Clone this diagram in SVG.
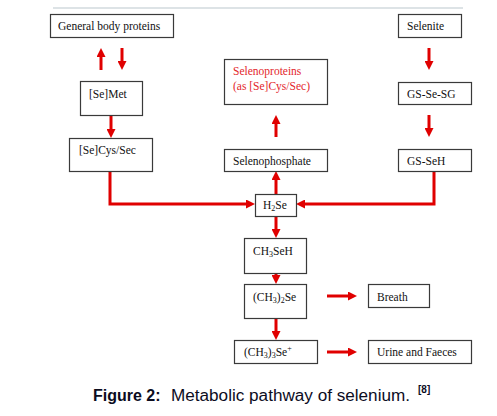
<svg xmlns="http://www.w3.org/2000/svg" width="497" height="416" viewBox="0 0 497 416">
<style>
.box{fill:#fff;stroke:#3a3a3a;stroke-width:1.2}
.t{font-family:"Liberation Serif","Times New Roman",serif;font-size:11.5px;fill:#111}
.red{fill:#e3262b}
.sub{font-size:8px}
.c{stroke:#e00000;stroke-width:3;fill:none}
.cap{font-family:"Liberation Sans",Arial,sans-serif;font-size:16px;fill:#0c0c1e}
.ref{font-family:"Liberation Sans",Arial,sans-serif;font-size:10px;font-weight:bold;fill:#0c0c1e}
</style>
<defs>
<marker id="ah" markerUnits="userSpaceOnUse" markerWidth="9" markerHeight="9" refX="0" refY="4.5" orient="auto" viewBox="0 0 9 9">
<path d="M0,0 L9,4.5 L0,9 z" fill="#e00000"/>
</marker>
</defs>
<rect width="497" height="416" fill="#fff"/>
<line x1="53" y1="8" x2="463" y2="8" stroke="#dde3e6" stroke-width="2"/>
<g id="connectors">
<line class="c" x1="101" y1="70" x2="101" y2="57" marker-end="url(#ah)"/>
<line class="c" x1="122" y1="48" x2="122" y2="61" marker-end="url(#ah)"/>
<line class="c" x1="111" y1="115" x2="111" y2="129" marker-end="url(#ah)"/>
<line class="c" x1="429" y1="48" x2="429" y2="61" marker-end="url(#ah)"/>
<line class="c" x1="429" y1="115" x2="429" y2="128" marker-end="url(#ah)"/>
<line class="c" x1="276" y1="137" x2="276" y2="124" marker-end="url(#ah)"/>
<line class="c" x1="276" y1="194" x2="276" y2="180" marker-end="url(#ah)"/>
<path class="c" d="M110,171 V204 H246" marker-end="url(#ah)"/>
<path class="c" d="M434,171 V204 H305" marker-end="url(#ah)"/>
<line class="c" x1="276" y1="216" x2="276" y2="229" marker-end="url(#ah)"/>
<line class="c" x1="276" y1="273" x2="276" y2="275" marker-end="url(#ah)"/>
<line class="c" x1="276" y1="318" x2="276" y2="331" marker-end="url(#ah)"/>
<line class="c" x1="327" y1="296" x2="348" y2="296" marker-end="url(#ah)"/>
<line class="c" x1="327" y1="352" x2="348" y2="352" marker-end="url(#ah)"/>
</g>
<g id="general-body-proteins"><rect class="box" x="50.5" y="14.5" width="123" height="23"/><text class="t" x="58" y="30">General body proteins</text></g>
<g id="selenite"><rect class="box" x="398.5" y="14.5" width="63" height="23"/><text class="t" x="407" y="30">Selenite</text></g>
<g id="selenoproteins"><rect class="box" x="224.5" y="59.5" width="103" height="45"/><text class="t red" x="233" y="75">Selenoproteins</text><text class="t red" x="233" y="90">(as [Se]Cys/Sec)</text></g>
<g id="semet"><rect class="box" x="80.5" y="81.5" width="62" height="34"/><text class="t" x="89" y="98">[Se]Met</text></g>
<g id="gs-se-sg"><rect class="box" x="398.5" y="82.5" width="73" height="22"/><text class="t" x="407" y="98">GS-Se-SG</text></g>
<g id="secys"><rect class="box" x="69.5" y="138.5" width="83" height="33"/><text class="t" x="79" y="154">[Se]Cys/Sec</text></g>
<g id="selenophosphate"><rect class="box" x="224.5" y="149.5" width="103" height="22"/><text class="t" x="233" y="165">Selenophosphate</text></g>
<g id="gs-seh"><rect class="box" x="398.5" y="149.5" width="73" height="22"/><text class="t" x="407" y="165">GS-SeH</text></g>
<g id="h2se"><rect class="box" x="255.5" y="194.5" width="41" height="22"/><text class="t" x="263" y="209">H<tspan class="sub" dy="2">2</tspan><tspan dy="-2">Se</tspan></text></g>
<g id="ch3seh"><rect class="box" x="244.5" y="238.5" width="62" height="35"/><text class="t" x="253" y="255">CH<tspan class="sub" dy="2">3</tspan><tspan dy="-2">SeH</tspan></text></g>
<g id="ch3-2se"><rect class="box" x="244.5" y="284.5" width="62" height="34"/><text class="t" x="253" y="301">(CH<tspan class="sub" dy="2">3</tspan><tspan dy="-2">)</tspan><tspan class="sub" dy="2">2</tspan><tspan dy="-2">Se</tspan></text></g>
<g id="ch3-3se"><rect class="box" x="234.5" y="340.5" width="83" height="23"/><text class="t" x="244" y="356">(CH<tspan class="sub" dy="2">3</tspan><tspan dy="-2">)</tspan><tspan class="sub" dy="2">3</tspan><tspan dy="-2">Se</tspan><tspan class="sub" dy="-5">+</tspan></text></g>
<g id="breath"><rect class="box" x="368.5" y="284.5" width="61" height="23"/><text class="t" x="377" y="301">Breath</text></g>
<g id="urine"><rect class="box" x="368.5" y="340.5" width="103" height="23"/><text class="t" x="377" y="356">Urine and Faeces</text></g>
<g id="caption">
<text class="cap" x="93" y="400.5" font-weight="bold">Figure 2:</text>
<text class="cap" x="171" y="400.5" textLength="239" lengthAdjust="spacingAndGlyphs">Metabolic pathway of selenium.</text>
<text class="ref" x="418" y="393">[8]</text>
</g>
</svg>
